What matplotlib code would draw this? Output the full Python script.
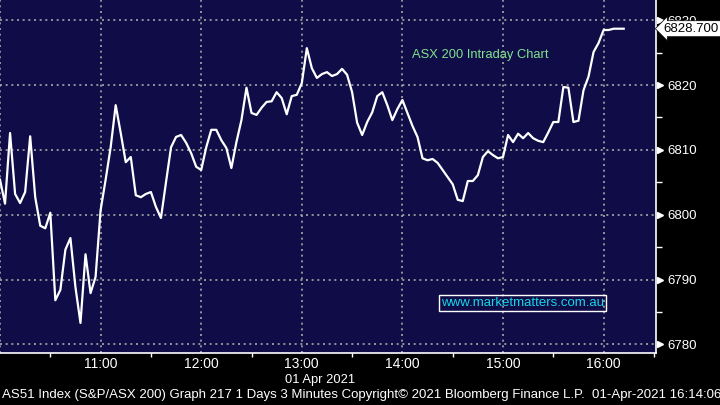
import matplotlib
matplotlib.use("Agg")
import matplotlib.pyplot as plt
import matplotlib.dates as mdates
import matplotlib.transforms as mtransforms
import pandas as pd

# ASX 200 intraday, 3-minute bars from 10:00
values = [
    6805.4, 6801.7, 6812.6, 6803.2, 6801.8, 6803.5, 6812.1, 6802.7, 6798.3, 6797.9,
    6800.3, 6786.8, 6788.4, 6794.6, 6796.4, 6788.8, 6783.3, 6793.9, 6787.9, 6790.4,
    6800.7, 6805.4, 6810.4, 6816.9, 6812.6, 6808.1, 6808.9, 6803.0, 6802.7, 6803.2,
    6803.5, 6801.2, 6799.5, 6805.0, 6810.4, 6812.0, 6812.3, 6811.1, 6809.5, 6807.4,
    6806.9, 6810.4, 6813.1, 6813.1, 6811.5, 6810.3, 6807.2, 6811.2, 6814.6, 6819.6,
    6815.7, 6815.4, 6816.5, 6817.4, 6817.5, 6818.9, 6818.0, 6815.5, 6818.3, 6818.5,
    6820.3, 6825.7, 6822.6, 6821.1, 6821.7, 6822.0, 6821.4, 6821.7, 6822.5, 6821.6,
    6818.9, 6814.2, 6812.3, 6814.3, 6815.8, 6818.3, 6818.9, 6816.9, 6814.6, 6816.3,
    6817.7, 6815.7, 6813.7, 6812.0, 6808.7, 6808.4, 6808.6, 6808.0, 6806.9, 6805.8,
    6804.7, 6802.3, 6802.1, 6805.2, 6805.2, 6806.1, 6808.9, 6809.8, 6809.2, 6808.7,
    6808.9, 6812.3, 6811.2, 6812.5, 6811.8, 6812.6, 6811.8, 6811.4, 6811.2, 6812.7,
    6814.3, 6814.3, 6819.7, 6819.6, 6814.3, 6814.5, 6819.2, 6821.3, 6825.1, 6826.5,
    6828.5, 6828.5, 6828.7, 6828.7, 6828.7,
]
times = pd.date_range("2021-04-01 10:00", periods=len(values), freq="3min")
last_price = 6828.700
y_ticks = [6780, 6790, 6800, 6810, 6820, 6830]
hour_ticks = pd.date_range("2021-04-01 10:00", "2021-04-01 16:00", freq="1h")
half_ticks = pd.date_range("2021-04-01 10:30", "2021-04-01 16:30", freq="1h")

footer = ("AS51 Index (S&P/ASX 200) Graph 217 1 Days 3 Minutes Copyright\u00a9 2021 "
          "Bloomberg Finance L.P.  01-Apr-2021 16:14:06")

plt.rcParams["font.family"] = ["Liberation Sans", "DejaVu Sans"]

fig = plt.figure(figsize=(7.2, 4.05), dpi=100, facecolor="black")
ax = fig.add_axes([0, 1 - 353 / 405, 656 / 720, 353 / 405])
ax.set_facecolor("#0f0c48")

ax.plot(times, values, color="white", lw=1.6, zorder=3)

ax.set_xlim(pd.Timestamp("2021-04-01 10:00"), pd.Timestamp("2021-04-01 16:31:15"))
ax.set_ylim(6778.66, 6833.13)

# grid
ax.set_xticks(hour_ticks)
ax.set_xticks(half_ticks, minor=True)
ax.xaxis.set_major_formatter(mdates.DateFormatter("%H:%M"))
labels = ["" if t.hour == 10 else t.strftime("%H:%M") for t in hour_ticks]
ax.set_xticklabels(labels)
ax.set_yticks(y_ticks)
ax.set_yticks([v + 5 for v in y_ticks[:-1]], minor=True)
ax.grid(True, which="major", color="#a8a8a8", ls=(0, (1.2, 2.2)), lw=1.2)

ax.yaxis.tick_right()
ax.tick_params(axis="x", which="major", length=0, colors="white", labelsize=10, pad=3)
ax.tick_params(axis="x", which="minor", length=3, color="white", width=1)
ax.tick_params(axis="y", which="major", length=0, colors="white", labelsize=9.5, pad=8)
ax.tick_params(axis="y", which="minor", length=4, color="white", width=1, direction="out")

for side in ["top", "left"]:
    ax.spines[side].set_visible(False)
for side in ["bottom", "right"]:
    ax.spines[side].set_color("white")
    ax.spines[side].set_linewidth(1.2)

# triangle pointers at the major y ticks
tri = mtransforms.blended_transform_factory(ax.transAxes, ax.transData)
for v in y_ticks:
    ax.plot([1.006], [v], marker=">", color="white", ms=5, transform=tri,
            clip_on=False, zorder=4)

# last price callout
ax.text(1.012, last_price, f"{last_price:.3f}", transform=tri, va="center", ha="left",
        fontsize=9.5, color="black", zorder=6, clip_on=False,
        bbox=dict(boxstyle="larrow,pad=0.15", fc="white", ec="black", lw=0.5))

ax.text(0.732, 0.844, "ASX 200 Intraday Chart", transform=ax.transAxes,
        ha="center", va="center", fontsize=9.3, color="#7fe38c")
ax.text(0.797, 0.143, "www.marketmatters.com.au", transform=ax.transAxes,
        ha="center", va="center", fontsize=9.5, color="#18d6e6",
        bbox=dict(boxstyle="square,pad=0.15", fc="none", ec="white", lw=1))

fig.text(320 / 720, 1 - 380 / 405, "01 Apr 2021", color="white", fontsize=9.3,
         ha="center", va="center")
fig.text(2 / 720, 1 - 395 / 405, footer, color="white", fontsize=9.5,
         ha="left", va="center")

fig.savefig("out.png", dpi=100, facecolor="black")
